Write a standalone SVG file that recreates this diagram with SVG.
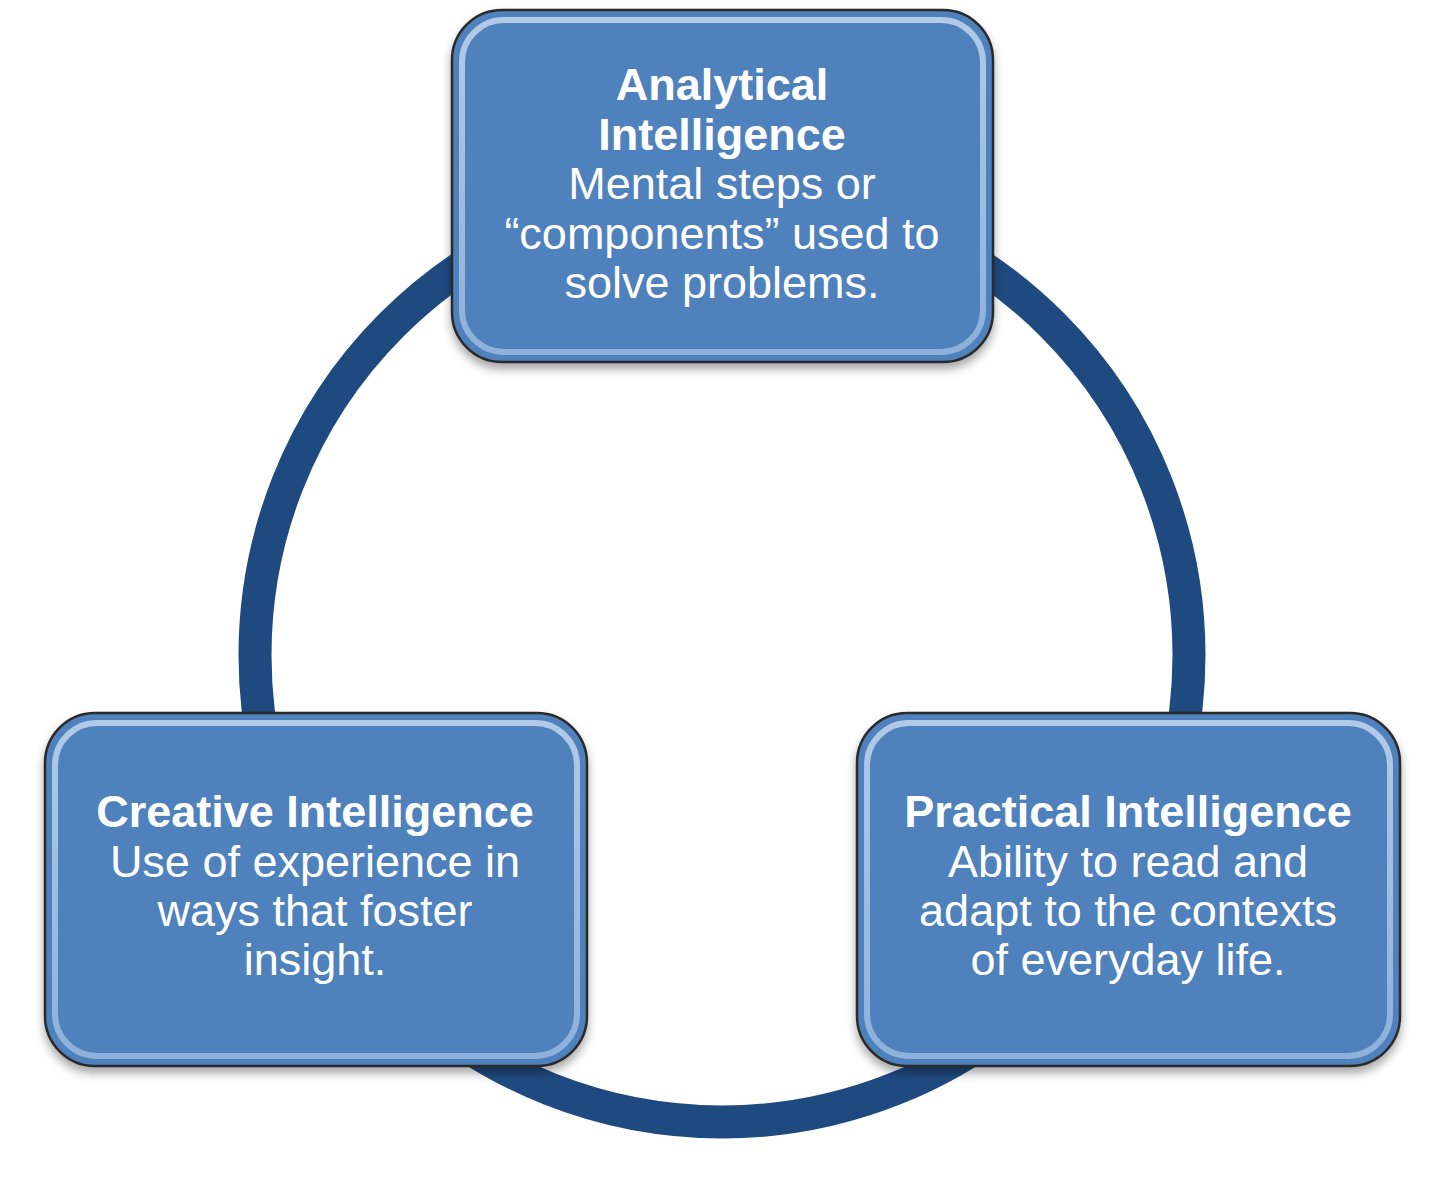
<svg xmlns="http://www.w3.org/2000/svg" width="1440" height="1189" viewBox="0 0 1440 1189">
<defs>
<filter id="sh" x="-10%" y="-10%" width="120%" height="125%"><feDropShadow dx="0" dy="6" stdDeviation="5" flood-color="#000" flood-opacity="0.35"/></filter>
<linearGradient id="hl" x1="0" y1="0" x2="0" y2="1"><stop offset="0" stop-color="#c9dcf2"/><stop offset="1" stop-color="#9dbde3"/></linearGradient>
</defs>
<style>
.box{fill:#4f81bd;stroke:#2a2a2a;stroke-width:2.5}
.in{fill:none;stroke:url(#hl);stroke-width:6;opacity:0.8}
text{font-family:"Liberation Sans",Arial,sans-serif;font-size:45px;fill:#fff;text-anchor:middle}
.b{font-weight:bold}
</style>
<rect width="1440" height="1189" fill="#fff"/>
<g id="connectors"><circle cx="722" cy="655" r="467" fill="none" stroke="#1f4a80" stroke-width="33"/></g>
<g id="analytical" filter="url(#sh)">
<rect class="box" x="452" y="10" width="541" height="352" rx="50"/>
<rect class="in" x="462" y="20" width="521" height="332" rx="42"/>
</g>
<g>
<text x="722" y="100" class="b">Analytical</text>
<text x="722" y="150" class="b">Intelligence</text>
<text x="722" y="199">Mental steps or</text>
<text x="722" y="249">“components” used to</text>
<text x="722" y="298">solve problems.</text>
</g>
<g id="creative" filter="url(#sh)">
<rect class="box" x="45" y="713" width="542" height="353" rx="50"/>
<rect class="in" x="55" y="723" width="522" height="333" rx="42"/>
</g>
<g>
<text x="315" y="827" class="b">Creative Intelligence</text>
<text x="315" y="877">Use of experience in</text>
<text x="315" y="926">ways that foster</text>
<text x="315" y="975">insight.</text>
</g>
<g id="practical" filter="url(#sh)">
<rect class="box" x="857" y="713" width="543" height="353" rx="50"/>
<rect class="in" x="867" y="723" width="523" height="333" rx="42"/>
</g>
<g>
<text x="1128" y="827" class="b">Practical Intelligence</text>
<text x="1128" y="877">Ability to read and</text>
<text x="1128" y="926">adapt to the contexts</text>
<text x="1128" y="975">of everyday life.</text>
</g>
</svg>
